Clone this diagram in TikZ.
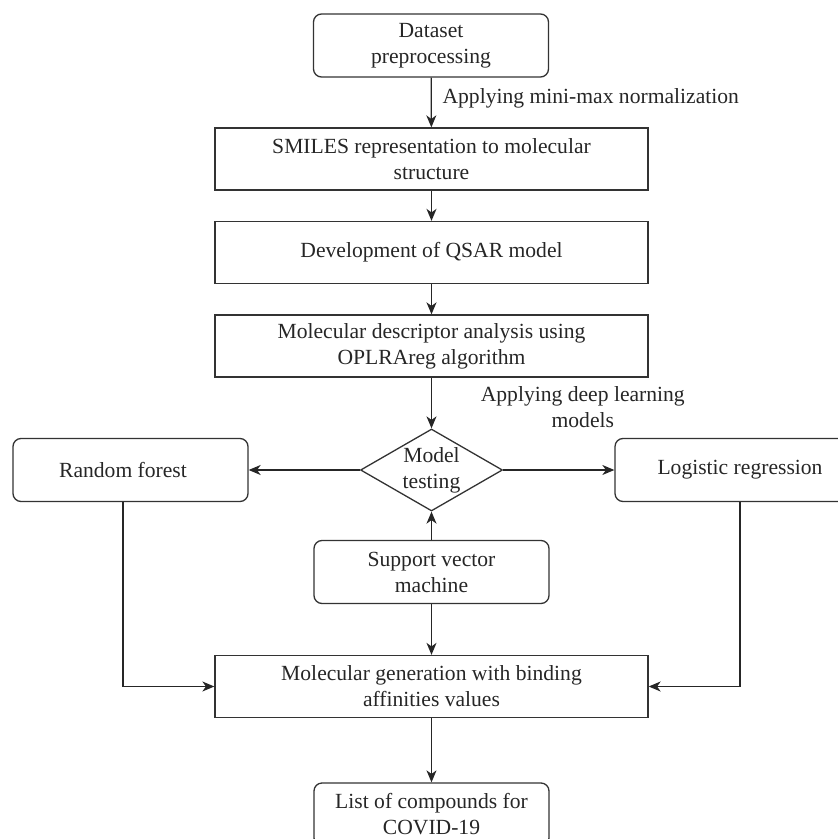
\documentclass[tikz,border=0pt]{standalone}
\usepackage{fontspec}
\setmainfont{Liberation Serif}
\usetikzlibrary{arrows.meta,positioning,shapes.geometric}

\begin{document}
\begin{tikzpicture}[
    x=0.5pt, y=0.5pt,
    every node/.style={font=\fontsize{10.8}{13}\selectfont, text=black!85},
    box/.style={draw=black!80, line width=0.65pt, minimum width=216.5pt, minimum height=31pt, align=center, inner sep=2pt},
    rbox/.style={draw=black!80, line width=0.65pt, minimum width=117.5pt, minimum height=31.5pt, align=center, rounded corners=4pt, inner sep=2pt},
    decision/.style={draw=black!80, line width=0.65pt, diamond, aspect=1.73, minimum width=71pt, minimum height=41pt, inner sep=-2pt, align=center},
    arrow/.style={-{Stealth[length=6pt, width=5pt, inset=1.8pt]}, line width=0.65pt, draw=black!85}
]
\useasboundingbox (0,0) rectangle (838,-839);

% Main column
\node[rbox] (data) at (431,-45.5) {Dataset\\preprocessing};
\node[box] (smiles) at (431.5,-159) {SMILES representation to molecular\\structure};
\node[box] (qsar) at (431.5,-252.5) {Development of QSAR model};
\node[box] (desc) at (431.5,-346) {Molecular descriptor analysis using\\OPLRAreg algorithm};
\node[decision] (test) at (431.5,-470) {Model\\testing};

% Models around the decision
\node[rbox] (rf) at (130.5,-470) {Random forest\hspace{7.5pt}};
\node[rbox] (lr) at (732.5,-470) {\hspace{7.5pt}Logistic regression};
\node[rbox] (svm) at (431.5,-572) {Support vector\\machine};

% Output
\node[box] (gen) at (431.5,-686.5) {Molecular generation with binding\\affinities values};
\node[rbox] (list) at (431.5,-814.5) {List of compounds for\\COVID-19};

% Arrows
\draw[arrow] (data) -- (smiles) node[midway, right=2pt, yshift=2pt] {Applying mini-max normalization};
\draw[arrow] (smiles) -- (qsar);
\draw[arrow] (qsar) -- (desc);
\draw[arrow] (desc) -- (test) node[midway, right=21pt, yshift=-2pt, align=center] {Applying deep learning\\models};
\draw[arrow] (test) -- (rf);
\draw[arrow] (test) -- (lr);
\draw[arrow] (svm) -- (test);
\draw[arrow] (svm) -- (gen);
\draw[arrow] ([xshift=-3.75pt]rf.south) |- (gen.west);
\draw[arrow] ([xshift=3.75pt]lr.south) |- (gen.east);
\draw[arrow] (gen) -- (list);
\end{tikzpicture}
\end{document}
